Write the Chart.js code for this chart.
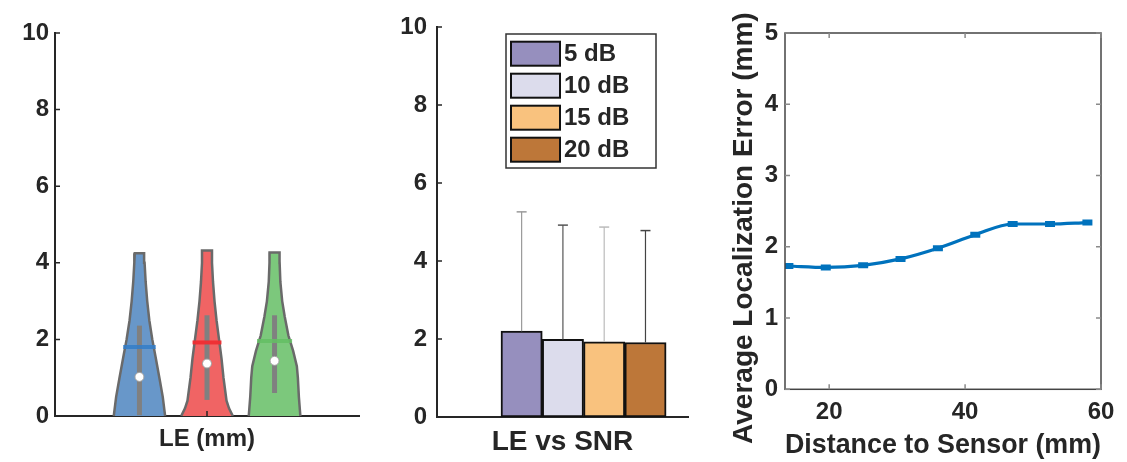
<!DOCTYPE html>
<html><head><meta charset="utf-8">
<script src="https://cdn.jsdelivr.net/npm/chart.js@4.4.0/dist/chart.umd.min.js"></script>
<style>
html,body{margin:0;padding:0;background:#fff;}
#wrap{position:relative;width:1127px;height:462px;background:#fff;overflow:hidden;}
canvas{position:absolute;top:0;}
</style></head><body>
<div id="wrap">
<canvas id="c1" width="380" height="462" style="left:0px"></canvas>
<canvas id="c2" width="330" height="462" style="left:380px"></canvas>
<canvas id="c3" width="417" height="462" style="left:710px"></canvas>
</div>
<script>
// ---------------- DATA ----------------
// Panel 1: violins (LE in mm)
const violinCenters = [1, 2, 3];
const violin1Levels = [0, 0.5, 1, 1.5, 2, 2.5, 3, 3.5, 4, 4.25];
const violin1Widths = [0.380, 0.345, 0.295, 0.243, 0.190, 0.146, 0.115, 0.092, 0.076, 0.069];
const violin2Levels = [0, 0.2, 0.4, 1, 1.5, 2, 2.5, 3, 3.5, 4, 4.32];
const violin2Widths = [0.382, 0.326, 0.289, 0.244, 0.215, 0.178, 0.141, 0.111, 0.089, 0.074, 0.074];
const violin3Levels = [0, 0.5, 1, 1.3, 1.7, 2.1, 2.6, 3, 3.5, 4, 4.27];
const violin3Widths = [0.382, 0.360, 0.345, 0.330, 0.275, 0.205, 0.150, 0.113, 0.086, 0.075, 0.074];
const violinMeans = [1.80, 1.92, 1.96];
const violinMedians = [1.02, 1.37, 1.44];
const violinBoxLow = [0.02, 0.42, 0.60];
const violinBoxHigh = [2.36, 2.63, 2.63];
const panel1YTicks = [0, 2, 4, 6, 8, 10];
const panel1XLabel = 'LE (mm)';

// Panel 2: bars LE vs SNR
const snrLabels = ['5 dB', '10 dB', '15 dB', '20 dB'];
const snrPositions = [1, 2, 3, 4];
const snrMeans = [2.20, 1.99, 1.93, 1.91];
const snrUpper = [5.26, 4.92, 4.87, 4.78];
const panel2YTicks = [0, 2, 4, 6, 8, 10];
const panel2Title = 'LE vs SNR';

// Panel 3: line
const distances = [14, 19.5, 25, 30.5, 36, 41.5, 47, 52.5, 58];
const avgError = [1.73, 1.71, 1.74, 1.83, 1.98, 2.17, 2.32, 2.32, 2.34];
const panel3XTicks = [20, 40, 60];
const panel3YTicks = [0, 1, 2, 3, 4, 5];
const panel3XTitle = 'Distance to Sensor (mm)';
const panel3YTitle = 'Average Localization Error (mm)';

// ---------------- STYLE ----------------
const FONT = "'Liberation Sans', Arial, sans-serif";
Chart.defaults.font.family = FONT;
Chart.defaults.font.weight = 'bold';
Chart.defaults.color = '#262626';
const AX = '#262626';

const violinFill = ['#6897C9', '#F06464', '#7CC87C'];
const violinMeanCol = ['rgba(50,125,200,0.85)', 'rgba(238,45,50,0.95)', 'rgba(100,190,100,0.85)'];
const snrColors = ['#968FBE', '#DCDCEC', '#F9C27E', '#BD7739'];
const snrErrColors = ['#9a9a9a', '#555555', '#bbbbbb', '#444444'];

function interp(lv, w, v) {
  for (let i = 1; i < lv.length; i++) {
    if (v <= lv[i]) { const t = (v - lv[i-1]) / (lv[i] - lv[i-1]); return w[i-1] + t * (w[i] - w[i-1]); }
  }
  return w[w.length - 1];
}

const inTicks = {
  id: 'inTicks',
  afterDraw(chart, args, o) {
    const {ctx, chartArea: a} = chart;
    const xs = chart.scales.x, ys = chart.scales.y;
    ctx.save();
    if (o.box) {
      ctx.strokeStyle = o.boxColor; ctx.lineWidth = o.boxWidth;
      ctx.strokeRect(a.left, a.top, a.right - a.left, a.bottom - a.top);
    }
    ctx.strokeStyle = o.color; ctx.lineWidth = o.width;
    ctx.beginPath();
    (o.yTicks || []).forEach(v => {
      const p = ys.getPixelForValue(v);
      ctx.moveTo(a.left, p); ctx.lineTo(a.left + o.len, p);
      if (o.box) { ctx.moveTo(a.right, p); ctx.lineTo(a.right - o.len, p); }
    });
    (o.xTicks || []).forEach(v => {
      const p = xs.getPixelForValue(v);
      ctx.moveTo(p, a.bottom); ctx.lineTo(p, a.bottom - o.len);
      if (o.box) { ctx.moveTo(p, a.top); ctx.lineTo(p, a.top + o.len); }
    });
    ctx.stroke();
    if (o.yTitle) {
      ctx.save();
      ctx.translate(o.yTitleX, (a.top + a.bottom) / 2 + o.yTitleShift);
      ctx.rotate(-Math.PI / 2);
      ctx.font = 'bold ' + o.yTitleSize + 'px ' + FONT;
      ctx.fillStyle = AX; ctx.textAlign = 'center'; ctx.textBaseline = 'middle';
      ctx.fillText(o.yTitle, 0, 0);
      ctx.restore();
    }
    ctx.restore();
  }
};

const boxLegend = {
  id: 'boxLegend',
  afterDraw(chart, args, o) {
    const {ctx, chartArea: a} = chart;
    const ds = chart.data.datasets.filter(d => d.type === 'bar');
    const L = a.left + o.dx, T = a.top + o.dy;
    ctx.save();
    ctx.fillStyle = '#fff';
    ctx.fillRect(L, T, o.w, o.h);
    ctx.strokeStyle = '#333'; ctx.lineWidth = 1.5;
    ctx.strokeRect(L, T, o.w, o.h);
    ctx.font = 'bold 24px ' + FONT;
    ctx.textBaseline = 'middle'; ctx.textAlign = 'left';
    ds.forEach((d, i) => {
      const y = T + o.first + i * o.step;
      ctx.fillStyle = d.backgroundColor;
      ctx.fillRect(L + 5, y, o.sw, o.sh);
      ctx.strokeStyle = '#111'; ctx.lineWidth = 2;
      ctx.strokeRect(L + 5, y, o.sw, o.sh);
      ctx.fillStyle = AX;
      ctx.fillText(d.label, L + 5 + o.sw + 4, y + o.sh / 2 + 1);
    });
    ctx.restore();
  }
};

const tickFont = {size: 24, weight: 'bold'};
const titleFontX = {size: 28, weight: 'bold'};

// ---------------- PANEL 1 ----------------
const vLevels = [violin1Levels, violin2Levels, violin3Levels];
const vWidths = [violin1Widths, violin2Widths, violin3Widths];
const p1sets = [];
violinCenters.forEach((c, k) => {
  const lv = vLevels[k], w = vWidths[k];
  const pts = [];
  for (let i = 0; i < lv.length; i++) pts.push({x: c + w[i], y: lv[i]});
  for (let i = lv.length - 1; i >= 0; i--) pts.push({x: c - w[i], y: lv[i]});
  p1sets.push({data: pts, showLine: true, fill: 'shape', backgroundColor: violinFill[k],
    borderColor: '#6a6a6a', borderWidth: 2.5, pointRadius: 0, tension: 0, order: 4});
  p1sets.push({data: [{x: c, y: violinBoxLow[k]}, {x: c, y: violinBoxHigh[k]}], showLine: true,
    borderColor: '#808080', borderWidth: 5, borderCapStyle: 'butt', pointRadius: 0, order: 3});
  const hw = interp(lv, w, violinMeans[k]) + 0.03;
  p1sets.push({data: [{x: c - hw, y: violinMeans[k]}, {x: c + hw, y: violinMeans[k]}], showLine: true,
    borderColor: violinMeanCol[k], borderWidth: 4, borderCapStyle: 'butt', pointRadius: 0, order: 2});
});
p1sets.push({data: violinCenters.map((c, k) => ({x: c, y: violinMedians[k]})), showLine: false,
  pointRadius: 4.5, pointBackgroundColor: '#fff', pointBorderColor: '#a0a0a0', pointBorderWidth: 1, order: 1});

new Chart(document.getElementById('c1'), {
  type: 'scatter',
  data: {datasets: p1sets},
  plugins: [inTicks],
  options: {
    responsive: false, animation: false, events: [],
    layout: {padding: {left: 0, top: 33, right: 21, bottom: 0}},
    plugins: {legend: {display: false}, tooltip: {enabled: false},
      inTicks: {yTicks: panel1YTicks.slice(1), xTicks: [2], len: 5, color: AX, width: 1.5}},
    scales: {
      x: {type: 'linear', min: -0.25, max: 4.25,
        afterBuildTicks: s => { s.ticks = [{value: 2}]; },
        ticks: {callback: () => panel1XLabel, font: tickFont, padding: 9, maxRotation: 0, autoSkip: false},
        grid: {display: false, drawTicks: false},
        border: {display: true, color: AX, width: 2},
        afterFit: s => { s.height = 46; }},
      y: {min: 0, max: 10,
        afterBuildTicks: s => { s.ticks = panel1YTicks.map(v => ({value: v})); },
        ticks: {font: tickFont, padding: 6},
        grid: {display: false, drawTicks: false},
        border: {display: true, color: AX, width: 2},
        afterFit: s => { s.width = 55; }}
    }
  }
});

// ---------------- PANEL 2 ----------------
const p2sets = [];
snrLabels.forEach((l, i) => {
  p2sets.push({type: 'bar', label: l, data: [{x: snrPositions[i], y: snrMeans[i]}],
    backgroundColor: snrColors[i], borderColor: '#111', borderWidth: 2, borderSkipped: false,
    grouped: false, barPercentage: 1, categoryPercentage: 1, order: 2});
});
snrLabels.forEach((l, i) => {
  p2sets.push({type: 'line', label: l + ' err', data: [{x: snrPositions[i], y: snrMeans[i]}, {x: snrPositions[i], y: snrUpper[i]}],
    borderColor: snrErrColors[i], borderWidth: 1.2, pointStyle: 'line', pointRadius: [0, 5],
    pointBorderColor: snrErrColors[i], pointBorderWidth: 1.5, fill: false, order: 1});
});

new Chart(document.getElementById('c2'), {
  type: 'bar',
  data: {datasets: p2sets},
  plugins: [inTicks, boxLegend],
  options: {
    responsive: false, animation: false, events: [],
    layout: {padding: {left: 0, top: 27, right: 22, bottom: 0}},
    plugins: {legend: {display: false}, tooltip: {enabled: false},
      inTicks: {yTicks: panel2YTicks.slice(1), xTicks: [], len: 5, color: AX, width: 1.5},
      boxLegend: {dx: 69, dy: 7, w: 150, h: 134, first: 7.7, step: 32, sw: 49, sh: 24}},
    scales: {
      x: {type: 'linear', min: -1.05, max: 5.03, offset: false,
        afterBuildTicks: s => { s.ticks = [{value: 2}]; },
        ticks: {display: false},
        title: {display: true, text: panel2Title, font: titleFontX, padding: {top: 0, bottom: 3}},
        grid: {display: false, drawTicks: false, offset: false},
        border: {display: true, color: AX, width: 2},
        afterFit: s => { s.height = 45; }},
      y: {min: 0, max: 10,
        afterBuildTicks: s => { s.ticks = panel2YTicks.map(v => ({value: v})); },
        ticks: {font: tickFont, padding: 10},
        grid: {display: false, drawTicks: false},
        border: {display: true, color: AX, width: 2},
        afterFit: s => { s.width = 57; }}
    }
  }
});

// ---------------- PANEL 3 ----------------
new Chart(document.getElementById('c3'), {
  type: 'scatter',
  data: {datasets: [{
    data: distances.map((d, i) => ({x: d, y: avgError[i]})),
    showLine: true, cubicInterpolationMode: 'monotone',
    borderColor: '#0072BD', borderWidth: 3.2,
    pointStyle: 'line', pointRadius: 5, pointBorderWidth: 6, pointBorderColor: '#0072BD'
  }]},
  plugins: [inTicks],
  options: {
    responsive: false, animation: false, events: [],
    layout: {padding: {left: 0, top: 33, right: 26, bottom: 0}},
    plugins: {legend: {display: false}, tooltip: {enabled: false},
      inTicks: {yTicks: panel3YTicks, xTicks: panel3XTicks, len: 5, color: '#8a8a8a', width: 1.5,
        box: true, boxColor: '#444', boxWidth: 1.5,
        yTitle: panel3YTitle, yTitleX: 34, yTitleShift: 17, yTitleSize: 28}},
    scales: {
      x: {type: 'linear', min: 13.5, max: 60,
        afterBuildTicks: s => { s.ticks = panel3XTicks.map(v => ({value: v})); },
        ticks: {font: tickFont, padding: 9, maxRotation: 0, autoSkip: false},
        title: {display: true, text: panel3XTitle, font: titleFontX, padding: {top: 0, bottom: 0}},
        grid: {display: false, drawTicks: false},
        border: {display: false},
        afterFit: s => { s.height = 72.7; }},
      y: {min: 0, max: 5,
        afterBuildTicks: s => { s.ticks = panel3YTicks.map(v => ({value: v})); },
        ticks: {font: tickFont, padding: 7},
        grid: {display: false, drawTicks: false},
        border: {display: false},
        afterFit: s => { s.width = 75; }}
    }
  }
});
</script>
</body></html>
